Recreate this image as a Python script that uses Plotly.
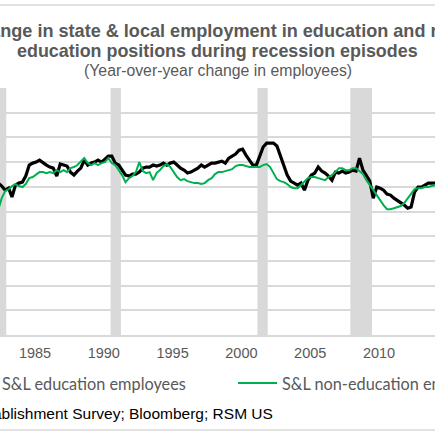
import pandas as pd
import plotly.graph_objects as go

# quarterly readings, year-over-year % change
start_date = "1982-05-01"
edu_employees = [
    0.30, 0.06, -0.27, -0.11, -0.83, 0.14, 0.30, 0.38, 0.87, 1.76,
    1.92, 2.00, 2.16, 1.92, 1.76, 1.60, 1.51, 0.87, 1.84, 1.76,
    1.68, 1.19, 0.95, 1.27, 1.51, 2.16, 1.76, 1.92, 2.00, 2.16,
    2.00, 2.24, 2.49, 2.49, 1.92, 1.76, 1.35, 0.95, 0.87, 1.03,
    1.03, 1.19, 1.51, 1.60, 1.60, 1.76, 1.68, 1.76, 1.92, 1.76,
    1.92, 2.00, 1.76, 1.51, 1.35, 1.11, 1.19, 1.35, 1.51, 1.76,
    1.60, 1.76, 1.92, 1.92, 2.00, 2.08, 1.92, 2.32, 2.49, 2.65,
    2.97, 3.05, 2.57, 2.16, 1.76, 1.76, 2.41, 3.22, 3.54, 3.54,
    3.54, 3.30, 2.49, 1.76, 0.95, 0.46, 0.30, 0.14, 0.30, -0.27,
    0.54, 0.95, 1.11, 1.60, 1.27, 1.11, 0.87, 0.54, 1.19, 1.11,
    1.27, 1.11, 1.19, 1.35, 1.27, 2.32, 1.35, 0.87, 0.46, -0.92,
    -0.02, -0.11, -0.27, -0.59, -0.67, -0.92, -1.08, -1.24, -1.48, -1.73,
    -1.64, -0.43, -0.02, -0.02, 0.14, 0.30, 0.30, 0.30, 0.38,
]
non_edu_employees = [
    -1.89, -0.92, -0.35, -0.19, 0.06, 0.22, 0.06, -0.02, 0.22, 0.70,
    0.79, 1.03, 1.19, 1.19, 1.11, 1.19, 1.11, 1.35, 1.19, 1.35,
    1.19, 1.51, 1.60, 1.76, 2.00, 2.32, 1.92, 1.76, 1.92, 1.76,
    1.92, 2.00, 2.32, 1.92, 1.76, 1.35, 0.95, 0.38, 0.70, 0.87,
    1.19, 2.00, 1.27, 1.11, 1.19, 0.54, 1.11, 1.35, 1.68, 1.84,
    1.60, 1.19, 0.79, 0.54, 0.62, 0.46, 0.38, 0.30, 0.30, 0.22,
    0.30, 0.54, 0.70, 1.03, 1.19, 1.19, 1.27, 1.35, 1.43, 1.68,
    1.76, 1.76, 1.68, 1.60, 1.60, 1.60, 1.60, 1.76, 1.84, 1.60,
    1.11, 0.62, 0.46, 0.38, 0.22, -0.02, -0.11, -0.11, 0.14, 0.38,
    0.70, 0.79, 0.79, 0.70, 0.62, 0.54, 0.79, 0.95, 1.19, 1.51,
    1.51, 1.35, 1.35, 1.51, 1.51, 1.27, 1.03, 0.54, 0.14, -0.27,
    -0.75, -1.08, -1.48, -1.81, -1.81, -1.73, -1.64, -1.56, -1.32, -0.92,
    -0.59, -0.19, -0.11, -0.11, -0.02, -0.02, 0.06, 0.14, 0.14,
]
recessions = [
    ("1981-07-01", "1982-11-30"),
    ("1990-07-01", "1991-03-31"),
    ("2001-03-01", "2001-11-30"),
    ("2007-12-01", "2009-06-30"),
]
series_names = ["S&L education employees", "S&L non-education employees"]
series_colors = ["#000000", "#00B050"]
title_lines = [
    "Change in state & local employment in education and non-",
    "education positions during recession episodes",
]
subtitle = "(Year-over-year change in employees)"
source = "Source: Bureau of Labor Statistics Establishment Survey; Bloomberg; RSM US"

dates = pd.date_range(start_date, periods=len(edu_employees), freq="3MS")

GRID = "#D9D9D9"
TXT = "#595959"
W, H = 435, 435
T, B = 88, 100  # plot area spans 88..335 px
ARIAL = "Liberation Sans, Arial"


def py(px):
    # pixel row -> paper y
    return (H - B - px) / (H - T - B)


def pxx(px):
    # pixel column -> paper x
    return px / W


fig = go.Figure()
fig.add_trace(go.Scatter(
    x=dates, y=edu_employees, mode="lines",
    line=dict(color=series_colors[0], width=3.2),
    name=series_names[0],
))
fig.add_trace(go.Scatter(
    x=dates, y=non_edu_employees, mode="lines",
    line=dict(color=series_colors[1], width=2),
    name=series_names[1],
))

shapes = []
for x0, x1 in recessions:
    shapes.append(dict(type="rect", xref="x", yref="paper", x0=x0, x1=x1,
                       y0=0, y1=1, fillcolor=GRID, line_width=0, layer="below"))
# chart frame lines
for row in (5, 430):
    shapes.append(dict(type="line", xref="paper", yref="paper", x0=-0.1, x1=1.1,
                       y0=py(row), y1=py(row), line=dict(color=GRID, width=1.5)))

# hand-built legend (plotly's own legend pushes the margins)
legend_keys = [(-45, -6, 0), (238, 277, 280)]
annotations = []
for (l0, l1, tx), name, color, lw in zip(legend_keys, series_names, series_colors, (3, 2)):
    shapes.append(dict(type="line", xref="paper", yref="paper", x0=pxx(l0), x1=pxx(l1),
                       y0=py(383), y1=py(383), line=dict(color=color, width=lw)))
    annotations.append(dict(text=name, x=pxx(tx), xanchor="left", y=py(383), yanchor="middle",
                            font=dict(size=16.3, color=TXT, family="Lato, Open Sans")))

annotations += [
    dict(text="<b>%s</b>" % title_lines[0], x=0.5, y=py(31), yanchor="middle",
         font=dict(size=18.1, color=TXT, family=ARIAL)),
    dict(text="<b>%s</b>" % title_lines[1], x=0.5, y=py(51), yanchor="middle",
         font=dict(size=17.9, color=TXT, family=ARIAL)),
    dict(text=subtitle, x=0.5, y=py(71), yanchor="middle",
         font=dict(size=15.8, color=TXT, family=ARIAL)),
    dict(text=source, x=pxx(275), xanchor="right", y=py(413), yanchor="middle",
         font=dict(size=15.5, color="#000000", family=ARIAL)),
]
for a in annotations:
    a.update(xref="paper", yref="paper", showarrow=False)
    a.setdefault("xanchor", "center")

fig.update_layout(
    width=W, height=H,
    margin=dict(l=0, r=0, t=T, b=B),
    plot_bgcolor="white",
    paper_bgcolor="white",
    shapes=shapes,
    annotations=annotations,
    showlegend=False,
)
fig.update_xaxes(
    type="date",
    range=["1982-06-17", "2014-01-26"],
    tick0="1985-01-01", dtick="M60", tickformat="%Y",
    showgrid=False, zeroline=False,
    showline=True, linecolor=GRID, linewidth=1.5,
    ticks="", ticklabelstandoff=4,
    tickfont=dict(size=14.5, color=TXT, family=ARIAL),
)
fig.update_yaxes(
    range=[-12, 8], dtick=2,
    showgrid=True, gridcolor=GRID, gridwidth=1.5,
    zeroline=False, showticklabels=False,
)

# the page body has an 8px default margin; drop it so the chart sits at 0,0
fig.write_html("out.html", config={"displayModeBar": False},
               post_script="document.body.style.margin = '0';")
